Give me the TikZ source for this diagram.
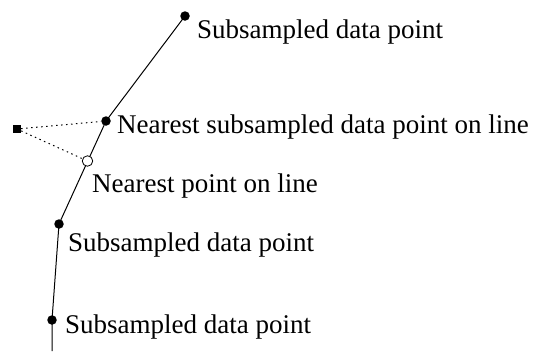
\documentclass[tikz,border=0pt]{standalone}
\usepackage{fontspec}
\setmainfont{Liberation Serif}
\begin{document}
\begin{tikzpicture}[x=1pt,y=-1pt,
  dot/.style={circle,fill=black,inner sep=0pt,minimum size=9.5pt},
  hollow/.style={circle,draw=black,fill=white,line width=0.8pt,inner sep=0pt,minimum size=10.5pt},
  sqr/.style={rectangle,fill=black,inner sep=0pt,minimum size=8pt},
  lbl/.style={anchor=base west,inner sep=0pt,font=\fontsize{27}{30}\selectfont},
  seg/.style={line width=1pt},
  dots/.style={line width=1pt,dash pattern=on 1.5pt off 3.5pt}]
\useasboundingbox (0,0) rectangle (535,351);
% points
\node[dot] (p1) at (185,16) {};
\node[dot] (p2) at (106,121) {};
\node[dot] (p3) at (59,224) {};
\node[dot] (p4) at (52,320) {};
\coordinate (end) at (52,351);
\node[sqr] (sq) at (17,129) {};
% polyline
\draw[seg] (p1.center) -- (p2.center) -- (p3.center) -- (p4.center) -- (end);
\node[hollow] (np) at (87.5,161) {};
% dotted connectors
\draw[dots] (sq) -- (p2);
\draw[dots] (sq) -- (np);
% labels
\node[lbl] (t1) at (197,38) {Subsampled data point};
\node[lbl] (t2) at (117,133) {Nearest subsampled data point on line};
\node[lbl] (t3) at (92,192) {Nearest point on line};
\node[lbl] (t4) at (68,251) {Subsampled data point};
\node[lbl] (t5) at (65,333) {Subsampled data point};
\end{tikzpicture}
\end{document}
